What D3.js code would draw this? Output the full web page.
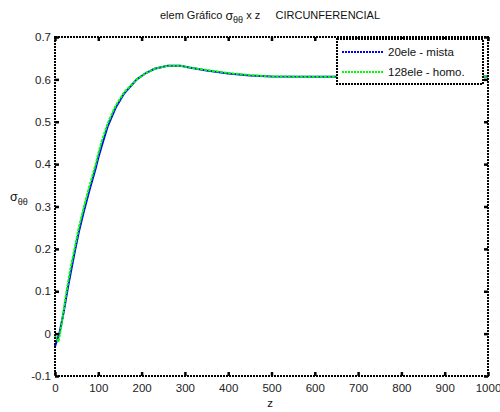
<!DOCTYPE html>
<html><head><meta charset="utf-8">
<script src="https://cdn.jsdelivr.net/npm/d3@7"></script>
<style>body{margin:0;background:#fff}svg{display:block}text{font-family:"Liberation Sans",Arial,sans-serif;white-space:pre}</style>
</head><body><svg id="c" width="500" height="412"></svg>
<script>
const xTicks = [0,100,200,300,400,500,600,700,800,900,1000];
const yTicks = [-0.1,0,0.1,0.2,0.3,0.4,0.5,0.6,0.7];
const seriesNames = ["20ele - mista","128ele - homo."];
const zMista = [0,10,20,30,45,55,67,80,94,100,110,122,140,160,189,210,230,260,290,310,350,400,450,500,600,700,800,900,1000];
const sMista = [-0.03,0.0,0.05,0.11,0.19,0.24,0.29,0.34,0.39,0.415,0.45,0.49,0.533,0.567,0.6,0.615,0.625,0.632,0.632,0.628,0.621,0.614,0.609,0.607,0.606,0.606,0.606,0.606,0.607];
const zHomo = [0,8,15,25,35,45,55,67,80,94,100,108,122,140,160,189,210,230,260,290,310,350,400,450,500,600,700,800,900,1000];
const sHomo = [-0.005,-0.02,0.02,0.09,0.15,0.2,0.25,0.3,0.35,0.4,0.425,0.455,0.497,0.538,0.57,0.6,0.615,0.625,0.632,0.632,0.628,0.622,0.615,0.61,0.607,0.606,0.606,0.606,0.606,0.607];

const svg = d3.select("#c");
const L=55,R=488,T=37,B=376;
const x = d3.scaleLinear().domain([0,1000]).range([L,R]);
const y = d3.scaleLinear().domain([-0.1,0.7]).range([B,T]);
const dot = "2 1";

// data lines
const line = d3.line().x((d)=>x(d[0])).y((d)=>y(d[1]));
svg.append("path").datum(zMista.map((z,i)=>[z,sMista[i]])).attr("d",line)
  .attr("fill","none").attr("stroke","#0000ff").attr("stroke-width",2);
svg.append("path").datum(zHomo.map((z,i)=>[z,sHomo[i]])).attr("d",line)
  .attr("fill","none").attr("stroke","#00ff00").attr("stroke-width",2).attr("stroke-dasharray","3 1");

// axes
const gx = svg.append("g").attr("transform",`translate(0,${B})`)
  .call(d3.axisBottom(x).tickValues(xTicks).tickSize(-4).tickPadding(8).tickFormat(d3.format("d")));
const gy = svg.append("g").attr("transform",`translate(${L},0)`)
  .call(d3.axisLeft(y).tickValues(yTicks).tickSize(-4).tickPadding(4).tickFormat((d)=>String(+d.toFixed(1))));
const gx2 = svg.append("g").attr("transform",`translate(0,${T})`)
  .call(d3.axisTop(x).tickValues(xTicks).tickSize(-4).tickFormat(""));
const gy2 = svg.append("g").attr("transform",`translate(${R},0)`)
  .call(d3.axisRight(y).tickValues(yTicks).tickSize(-4).tickFormat(""));
[gx,gy,gx2,gy2].forEach(g=>{
  g.select(".domain").remove();
  g.selectAll(".tick line").attr("stroke","#000").attr("stroke-width",2.5);
  g.selectAll(".tick text").attr("fill","#222").style("font-size","11.5px").style("font-family","Liberation Sans, Arial, sans-serif");
});
// box
svg.append("rect").attr("x",L).attr("y",T).attr("width",R-L).attr("height",B-T)
  .attr("fill","none").attr("stroke","#000").attr("stroke-width",2).attr("stroke-dasharray",dot);

// legend
const lg = svg.append("g");
lg.append("rect").attr("x",337).attr("y",39).attr("width",146).attr("height",45)
  .attr("fill","#fff").attr("stroke","#000").attr("stroke-width",2).attr("stroke-dasharray",dot);
const cols = ["#0000ff","#00ff00"];
seriesNames.forEach((n,i)=>{
  const yy = 52+i*20;
  lg.append("line").attr("x1",342).attr("x2",383).attr("y1",yy).attr("y2",yy)
    .attr("stroke",cols[i]).attr("stroke-width",2).attr("stroke-dasharray","2 1");
  lg.append("text").attr("x",388).attr("y",yy+4).text(n).style("font-size","11.5px").attr("fill","#111");
});

// title
const t = svg.append("text").attr("x",270).attr("y",19).attr("text-anchor","middle").style("font-size","11px").attr("fill","#111");
t.append("tspan").text("elem Gráfico ");
t.append("tspan").text("σ").style("font-size","12.5px").attr("dy",1);
t.append("tspan").text("θθ").style("font-size","9px").attr("dy",3);
t.append("tspan").text(" x z\u00a0\u00a0\u00a0\u00a0\u00a0CIRCUNFERENCIAL").attr("dy",-4);

// y label
const yl = svg.append("text").attr("x",10).attr("y",201).style("font-size","12.5px").attr("fill","#111");
yl.append("tspan").text("σ");
yl.append("tspan").text("θθ").style("font-size","9px").attr("dy",4);

// x label
svg.append("text").attr("x",270).attr("y",407).attr("text-anchor","middle").style("font-size","11.5px").attr("fill","#111").text("z");
</script></body></html>
